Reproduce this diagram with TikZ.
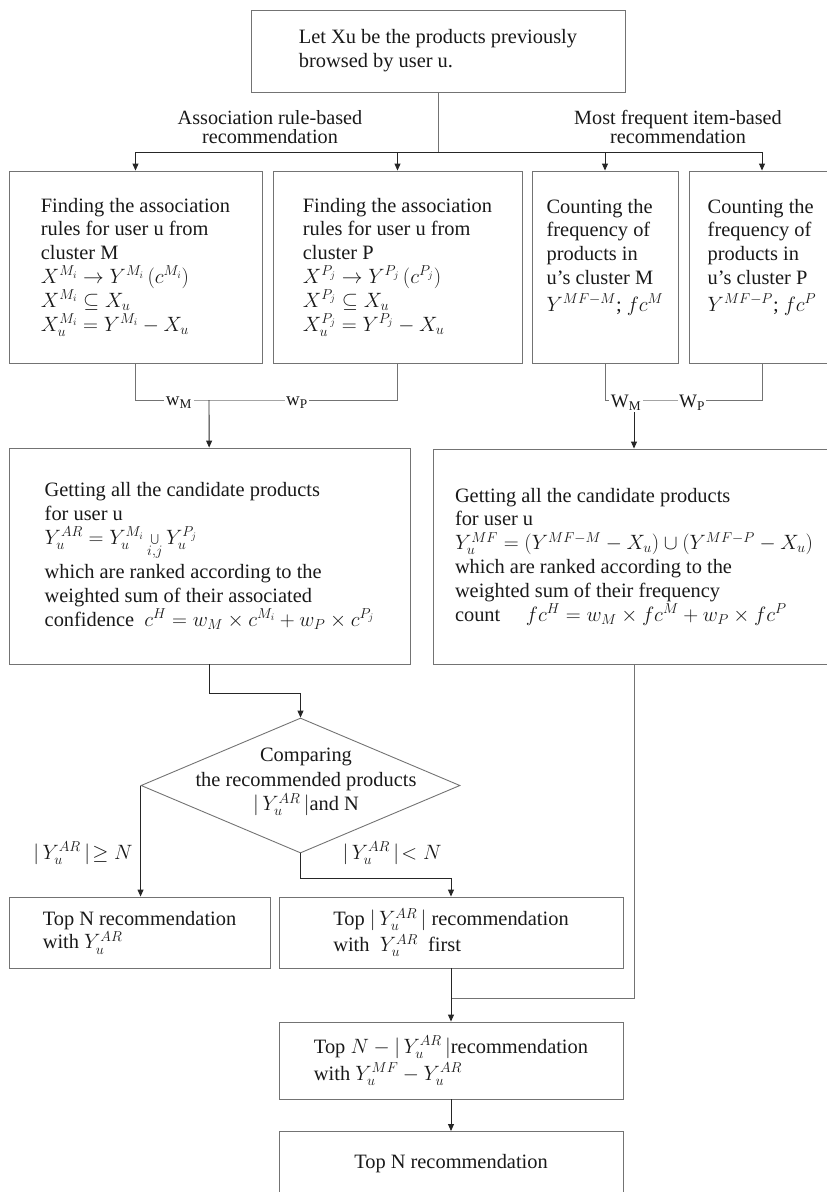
\documentclass[tikz,border=0pt]{standalone}
\usepackage{fontspec}
\setmainfont{Liberation Serif}
\usetikzlibrary{arrows.meta,shapes.geometric}
\tikzset{
  stepbox/.style={draw=black!55, line width=0.9pt, align=left, inner sep=0pt, text=black!90, font=\fontsize{20.4}{23.8}\selectfont},
  flow/.style={draw=black!55, line width=0.9pt},
  arr/.style={draw=black!85, line width=0.9pt, -{Triangle[length=7pt,width=6pt]}},
  decision/.style={diamond, draw=black!55, line width=0.9pt, inner sep=0pt},
  branchlabel/.style={align=center, text=black!90, font=\fontsize{20.2}{19}\selectfont},
  weight/.style={fill=white, inner sep=1.5pt, text=black!90, font=\fontsize{19}{19}\selectfont},
  cond/.style={text=black!90, font=\fontsize{20.4}{24.5}\selectfont},
}
\begin{document}
\begin{tikzpicture}[x=1pt,y=-1pt]
\useasboundingbox (0,0) rectangle (827,1192);
% start
\node[stepbox, minimum width=374pt, minimum height=82pt] (start) at (438,51)
  {Let Xu be the products previously\\browsed by user u.};
\node[branchlabel] (arlabel) at (270,127) {Association rule-based\\recommendation};
\node[branchlabel] (mflabel) at (678,127) {Most frequent item-based\\recommendation};
% four sources of candidates
\node[stepbox, minimum width=253pt, minimum height=192pt] (ruleM) at (135.5,267)
  {Finding the association\\rules for user u from\\cluster M\\
   $X^{M_i}\rightarrow Y^{M_i}\,(c^{M_i})$\\
   $X^{M_i}\subseteq X_u$\\
   $X_u^{M_i}=Y^{M_i}-X_u$};
\node[stepbox, minimum width=249pt, minimum height=192pt] (ruleP) at (397.5,267)
  {Finding the association\\rules for user u from\\cluster P\\
   $X^{P_j}\rightarrow Y^{P_j}\,(c^{P_j})$\\
   $X^{P_j}\subseteq X_u$\\
   $X_u^{P_j}=Y^{P_j}-X_u$};
\node[stepbox, minimum width=146pt, minimum height=192pt] (freqM) at (605,267)
  {Counting the\\frequency of\\products in\\u's cluster M\\[3pt]$Y^{MF-M}$; $fc^{M}$\\~};
\node[stepbox, minimum width=146pt, minimum height=192pt] (freqP) at (762,267)
  {Counting the\\frequency of\\products in\\u's cluster P\\[3pt]$Y^{MF-P}$; $fc^{P}$\\~};
\coordinate (split) at (438,152);
\draw[flow] (start.south) -- (split);
\foreach \target in {ruleM,ruleP,freqM,freqP}
  \draw[arr] (split) -| (\target.north);
% merging with weights
\node[stepbox, minimum width=401pt, minimum height=216pt] (candAR) at (209.5,556)
  {Getting all the candidate products\\for user u\\
   $Y_u^{AR}=Y_u^{M_i}\bigcup\limits_{i,j}Y_u^{P_j}$\\[4pt]
   which are ranked according to the\\weighted sum of their associated\\
   confidence \ $c^H=w_M\times c^{M_i}+w_P\times c^{P_j}$};
\node[stepbox, minimum width=402pt, minimum height=215pt] (candMF) at (634,556.5)
  {Getting all the candidate products\\for user u\\
   $Y_u^{MF}=(Y^{MF-M}-X_u)\cup(Y^{MF-P}-X_u)$\\
   which are ranked according to the\\weighted sum of their frequency\\
   count \quad $fc^H=w_M\times fc^M+w_P\times fc^P$};
\coordinate (joinAR) at (209,400);
\coordinate (joinMF) at (634,400);
\draw[flow] (ruleM.south) |- (joinAR) -| (ruleP.south);
\draw[flow] (freqM.south) |- (joinMF) -| (freqP.south);
\node[weight] (wM1) at (179,403) {w$_\mathrm{M}$};
\node[weight] (wP1) at (297,403) {w$_\mathrm{P}$};
\node[weight] (wM2) at (626,403) {W$_\mathrm{M}$};
\node[weight] (wP2) at (692,403) {W$_\mathrm{P}$};
\draw[arr] (joinAR) -- (candAR);
\draw[arr] (joinMF |- wM2.south) -- (candMF);
% comparison
\node[decision, minimum width=319pt, minimum height=135pt] (compare) at (300.5,785.5) {};
\node[cond, align=center] (comparetext) at (306,782)
  {Comparing\\the recommended products\\$|\,Y_u^{AR}\,|$and N};
\draw[arr] (candAR.south) -- ++(0,29) -| (compare.north);
\node[stepbox, minimum width=261pt, minimum height=71pt] (topAR) at (139.5,932.5)
  {Top N recommendation\\with $Y_u^{AR}$};
\node[stepbox, minimum width=344pt, minimum height=71pt] (topPart) at (451,932.5)
  {Top $|\,Y_u^{AR}\,|$ recommendation\\[2pt]with \ $Y_u^{AR}$ \ first};
\draw[arr] (compare.west) -- (compare.west |- topAR.north);
\draw[arr] (compare.south) -- ++(0,25) -| (topPart.north);
\node[cond] (geN) at (83,853) {$|\,Y_u^{AR}\,|\!\geq N$};
\node[cond] (ltN) at (392,853) {$|\,Y_u^{AR}\,|\!< N$};
% final steps
\node[stepbox, minimum width=344pt, minimum height=77pt] (topRest) at (451,1060.5)
  {Top $N-|\,Y_u^{AR}\,|$recommendation\\[3pt]with $Y_u^{MF}-Y_u^{AR}$};
\coordinate (joinRest) at (451,998);
\draw[flow] (candMF.south) |- (joinRest);
\draw[arr] (topPart) -- (topRest);
\node[stepbox, anchor=north, minimum width=344pt, text height=15pt, text depth=60pt, inner ysep=22pt] (topN) at (451,1131)
  {Top N recommendation};
\draw[arr] (topRest) -- (topN);
\end{tikzpicture}
\end{document}
